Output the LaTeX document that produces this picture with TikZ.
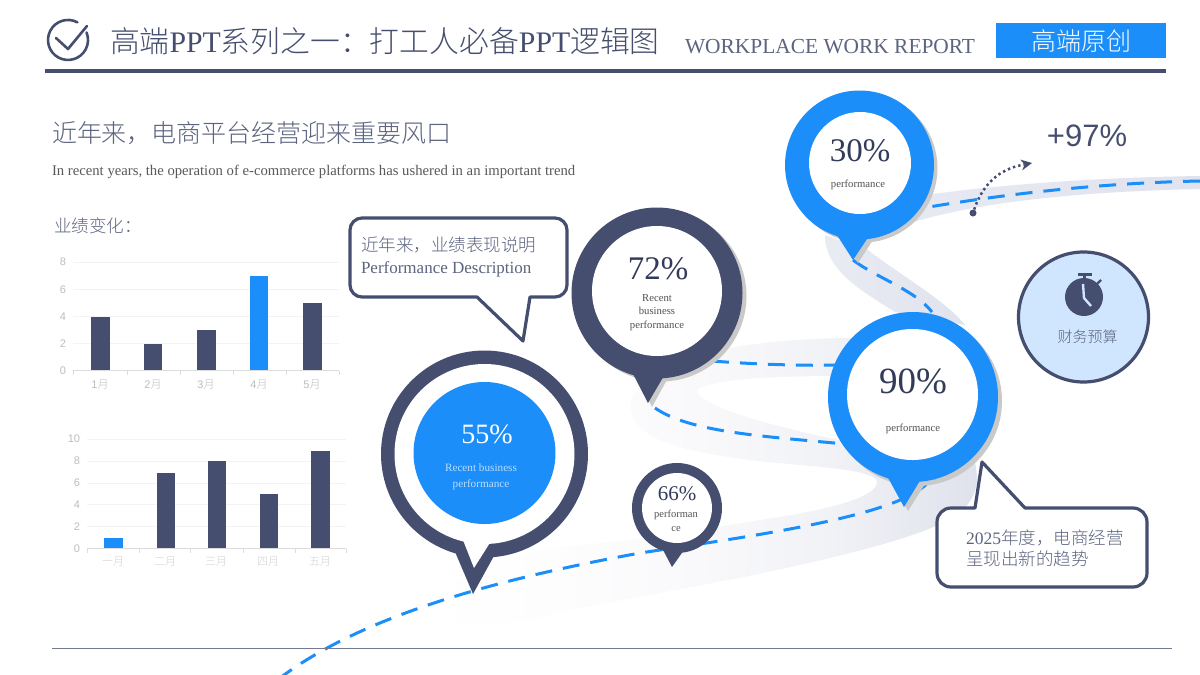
\documentclass[tikz,border=0pt]{standalone}
\usepackage{fontspec}
\setmainfont{Liberation Serif}
\newfontfamily\cjk{Noto Sans CJK SC}[UprightFont=* Light]
\newfontfamily\arial{Liberation Sans}
\newcommand{\fsz}[1]{\fontsize{#1}{#1}\selectfont}
\usetikzlibrary{arrows.meta,calc}
\definecolor{navy}{HTML}{454E6E}
\definecolor{azure}{HTML}{1B8EFA}
\definecolor{ribbon}{HTML}{E0E3EE}
\definecolor{shadowgray}{HTML}{C9C9C9}
\definecolor{softtext}{HTML}{5C6480}
\definecolor{ink}{HTML}{333B5A}
\definecolor{chartgrey}{HTML}{BDBDBD}
\definecolor{gridgrey}{HTML}{F3F3F3}
\definecolor{axisgrey}{HTML}{DCDCDC}
\definecolor{paleblue}{HTML}{D0E6FF}
\definecolor{rstopa}{HTML}{FDFDFE}
\definecolor{rstopb}{HTML}{F9F9FB}
\definecolor{rstopc}{HTML}{F1F2F6}
\definecolor{rstopd}{HTML}{DFE2EC}
\pgfdeclarehorizontalshading{ribbonfade}{100bp}{color(0bp)=(white); color(25bp)=(white); color(37.5bp)=(rstopa); color(50bp)=(rstopb); color(62bp)=(rstopc); color(75bp)=(rstopd); color(100bp)=(rstopd)}
\tikzset{
  txt/.style={inner sep=0pt,outer sep=0pt},
  route/.style={azure,line width=3pt,dash pattern=on 17pt off 11pt},
  calloutbox/.style={draw=navy,line width=3.2pt,fill=white,line join=round},
  barnavy/.style={fill=navy},
  barazure/.style={fill=azure},
  grid/.style={gridgrey,line width=0.8pt},
  axisline/.style={axisgrey,line width=1pt},
  charty/.style={txt,anchor=east,text=chartgrey,font=\arial\fsz{11}},
  chartx/.style={txt,text=chartgrey,font=\cjk\fsz{11}},
  smallcap/.style={txt,text=black!68,font=\fsz{10.7},align=center},
}
% colour, cx, cy, R, tip, base1, base2
\newcommand{\pinfill}[7]{%
  \fill[#1] (#2,#3) circle[radius=#4];
  \fill[#1] #6 -- #5 -- #7 -- cycle;}
\begin{document}
\begin{tikzpicture}[x=1pt,y=-1pt]
\useasboundingbox (0,0) rectangle (1200,675);
\fill[white] (0,0) rectangle (1200,675);

% ribbon pieces
\shade[left color=ribbon!75,right color=ribbon]
  (895,200) .. controls (950,190) and (1060,178) .. (1200,176)
  -- (1200,189) .. controls (1060,192) and (960,205) .. (895,228) -- cycle;
\shade[left color=ribbon!70,right color=ribbon]
  (825,235) .. controls (825,270) and (860,290) .. (895,312)
  -- (965,325) .. controls (945,300) and (900,275) .. (868,250) -- cycle;
\shade[shading=ribbonfade]
  (860,338) .. controls (790,338) and (720,345) .. (680,362)
  .. controls (640,378) and (625,400) .. (632,415)
  .. controls (642,440) and (680,452) .. (767,462)
  .. controls (820,467) and (877,470) .. (877,482)
  .. controls (877,497) and (830,510) .. (760,520)
  .. controls (700,530) and (640,540) .. (560,547)
  .. controls (480,560) and (430,590) .. (420,625)
  .. controls (480,625) and (530,622) .. (560,612)
  .. controls (640,595) and (760,578) .. (880,545)
  .. controls (950,525) and (975,510) .. (977,480)
  .. controls (977,430) and (920,360) .. (860,338) -- cycle;
\fill[white]
  (860,376) .. controls (800,376) and (720,376) .. (697,390)
  .. controls (695,403) and (760,425) .. (860,444) -- cycle;

% dashed route
\coordinate (r1a) at (1200,181);
\coordinate (r1b) at (900,212);
\coordinate (r2a) at (853,260);
\coordinate (r2b) at (932,312);
\coordinate (r3a) at (712,361);
\coordinate (r3b) at (840,365);
\coordinate (r4a) at (655,408);
\coordinate (r4b) at (845,444);
\coordinate (r5a) at (930,480);
\coordinate (r5b) at (280,678);
\draw[route] (r1a) .. controls (1100,183) and (1000,194) .. (r1b);
\draw[route] (r2a) .. controls (875,277) and (915,290) .. (r2b);
\draw[route] (r3a) .. controls (750,364) and (800,366) .. (r3b);
\draw[route] (r4a) .. controls (690,432) and (760,436) .. (r4b);
\draw[route] (r5a) .. controls (905,515) and (760,535) .. (640,553)
  .. controls (520,575) and (370,610) .. (r5b);

% header
\draw[navy,line width=2.6pt,line cap=round] (77.4,22.3) arc[start angle=62,end angle=382,radius=20pt];
\draw[navy,line width=2.6pt,line cap=round,line join=round] (56,38) -- (68,49) -- (87,26);
\fill[navy] (45,68.5) rectangle (1166,72.8);
\node[txt,anchor=west,text=navy,font=\fsz{29.8}] (title) at (110,41) {{\cjk 高端}PPT{\cjk 系列之一：打工人必备}PPT{\cjk 逻辑图}};
\node[txt,anchor=west,text=softtext,font=\fsz{21.4}] (sub) at (685,47) {WORKPLACE WORK REPORT};
\node[txt,fill=azure,minimum width=169.5pt,minimum height=35pt,text=white,font=\cjk\fsz{25}] (badge) at (1081.2,40.5) {高端原创};
\fill[navy!75] (52,647.5) rectangle (1172,648.8);

% left texts
\node[txt,anchor=west,text=softtext,font=\cjk\fsz{25}] (h1) at (52,133) {近年来，电商平台经营迎来重要风口};
\node[txt,anchor=west,text=black!65,font=\fsz{14.7}] (h2) at (52,172) {In recent years, the operation of e-commerce platforms has ushered in an important trend};
\node[txt,anchor=west,text=softtext,font=\cjk\fsz{17.5}] (h3) at (54,226) {业绩变化：};

% chart 1
\foreach \v/\yy in {2/343.7,4/316.7,6/289.4,8/262}{\draw[grid] (73,\yy) -- (339,\yy);}
\foreach \v/\yy in {0/370.5,2/343.7,4/316.7,6/289.4,8/262}{\node[charty] at (66,\yy) {\v};}
\draw[axisline] (73,370.5) -- (339,370.5);
\foreach \xx in {73,127,180,233,286,339}{\draw[axisline] (\xx,370.5) -- (\xx,375);}
\fill[barnavy] (91,316.7) rectangle (110,370);
\fill[barnavy] (144,343.7) rectangle (162,370);
\fill[barnavy] (197,330) rectangle (216,370);
\fill[barazure] (250,275.5) rectangle (268,370);
\fill[barnavy] (303,303) rectangle (322,370);
\node[chartx] at (100,385) {{\arial 1}月};
\node[chartx] at (153,385) {{\arial 2}月};
\node[chartx] at (206,385) {{\arial 3}月};
\node[chartx] at (259,385) {{\arial 4}月};
\node[chartx] at (312,385) {{\arial 5}月};

% chart 2
\foreach \yy in {439,461.2,483,504.8,526.4}{\draw[grid] (87,\yy) -- (346,\yy);}
\foreach \v/\yy in {0/548.5,2/526.4,4/504.8,6/483,8/461.2,10/439}{\node[charty] at (80,\yy) {\v};}
\draw[axisline] (87,548.5) -- (346,548.5);
\foreach \xx in {87,139,190,243,295,346}{\draw[axisline] (\xx,548.5) -- (\xx,553);}
\fill[barazure] (104,538) rectangle (123,548);
\fill[barnavy] (157,472.5) rectangle (175,548);
\fill[barnavy] (208,461.2) rectangle (226,548);
\fill[barnavy] (259.5,494) rectangle (278,548);
\fill[barnavy] (311,451) rectangle (330,548);
\foreach \x/\t in {113/一月,165/二月,216/三月,268/四月,320/五月}{\node[chartx,text=chartgrey!70] at (\x,562) {\t};}

% callout 1
\draw[calloutbox] (362,218) -- (555,218) arc[start angle=90,end angle=0,x radius=12,y radius=-12]
  -- (567,285) arc[start angle=0,end angle=-90,x radius=12,y radius=-12]
  -- (530,297) -- (523,341) -- (477,297) -- (362,297)
  arc[start angle=-90,end angle=-180,x radius=12,y radius=-12]
  -- (350,230) arc[start angle=180,end angle=90,x radius=12,y radius=-12] -- cycle;
\node[txt,anchor=west,text=softtext,font=\cjk\fsz{17.5}] (c1a) at (361,245) {近年来，业绩表现说明};
\node[txt,anchor=west,text=softtext,font=\fsz{17}] (c1b) at (361,269) {Performance Description};

% 55 pin
\pinfill{navy}{484.5}{454}{103.5}{(473,594)}{(450,540)}{(500,545)}
\pinfill{white}{484.5}{454}{90}{(474,568)}{(461,535)}{(493,538)}
\fill[azure] (484.5,453) circle[radius=71];
\node[txt,text=white,font=\fsz{28}] (p55) at (487,434) {55\%};
\node[txt,text=white!70!azure,font=\fsz{11.2},align=center] (p55t) at (481,477) {Recent business\\[5pt]performance};

% 72 pin
\pinfill{shadowgray}{661}{296}{85.5}{(652,407)}{(635,372)}{(669,376)}
\pinfill{navy}{657}{293}{85.5}{(648,403)}{(631,370)}{(665,374)}
\fill[white] (657,291) circle[radius=65];
\node[txt,text=ink,font=\fsz{33}] (p72) at (658,269) {72\%};
\node[smallcap] (p72t) at (657,312.5) {Recent\\[2.5pt]business\\[2.5pt]performance};

% 66 pin
\pinfill{navy}{677}{508}{45}{(672,567)}{(662,548)}{(684,550)}
\fill[white] (677,508) circle[radius=35];
\node[txt,text=ink,font=\fsz{21}] (p66) at (677,494) {66\%};
\node[smallcap,font=\fsz{10.5}] (p66t) at (676,521) {performan\\[3pt]ce};

% 30 pin
\pinfill{shadowgray}{863}{168}{74.5}{(858,263)}{(840,236)}{(873,240)}
\pinfill{azure}{859.5}{165}{74.5}{(853,260)}{(835,232)}{(869,236)}
\fill[white] (860,163) circle[radius=51];
\node[txt,text=ink,font=\fsz{33}] (p30) at (860,151) {30\%};
\node[smallcap] (p30t) at (858,185) {performance};

% 90 pin
\pinfill{shadowgray}{917}{401}{85}{(908,511)}{(890,478)}{(925,484)}
\pinfill{azure}{913}{397}{85}{(904,507)}{(886,474)}{(921,479)}
\fill[white] (912.5,394.5) circle[radius=65.5];
\node[txt,text=ink,font=\fsz{37}] (p90) at (913,381) {90\%};
\node[smallcap] (p90t) at (913,429) {performance};
\coordinate (r6a) at (935.5,474);
\coordinate (r6b) at (934,479);
\draw[azure,line width=3pt] (r6a) -- (r6b);

% callout 2
\draw[calloutbox] (951,508) -- (975,508) -- (982,462) -- (1025,508) -- (1133,508)
  arc[start angle=90,end angle=0,x radius=14,y radius=-14]
  -- (1147,573) arc[start angle=0,end angle=-90,x radius=14,y radius=-14]
  -- (951,587) arc[start angle=-90,end angle=-180,x radius=14,y radius=-14]
  -- (937,522) arc[start angle=180,end angle=90,x radius=14,y radius=-14] -- cycle;
\node[txt,anchor=west,text=softtext,font=\fsz{17.5}] (c2a) at (966,538) {2025{\cjk 年度，电商经营}};
\node[txt,anchor=west,text=softtext,font=\cjk\fsz{17.5}] (c2b) at (966,559) {呈现出新的趋势};

% +97
\node[txt,text=navy,font=\arial\fsz{31}] (plus) at (1087,136) {+97\%};
\node[circle,fill=navy,minimum size=7pt,inner sep=0pt] (dot) at (973,213) {};
\coordinate (arrowend) at (1032,163);
\draw[navy,line width=2.5pt,dash pattern=on 2.4pt off 3pt,-{Stealth[length=11pt,width=11pt,inset=3.5pt,line width=0pt]}]
  (dot) .. controls (985,178) and (1005,168) .. (arrowend);

% budget circle
\node[circle,draw=navy,line width=3.2pt,fill=paleblue,minimum size=130pt,inner sep=0pt] (budget) at (1083.5,317) {};
\fill[navy] (1084,297) circle[radius=19];
\fill[navy] (1077.5,273) rectangle (1092,275.5);
\fill[navy] (1082.5,275) rectangle (1086,280);
\draw[navy,line width=2.4pt] (1096,285) -- (1101,280);
\draw[paleblue,line width=2.4pt,line join=round] (1083,284) -- (1084,298) -- (1091,306);
\node[txt,text=softtext,font=\cjk\fsz{15}] (budgettxt) at (1087.5,337) {财务预算};
\end{tikzpicture}
\end{document}
